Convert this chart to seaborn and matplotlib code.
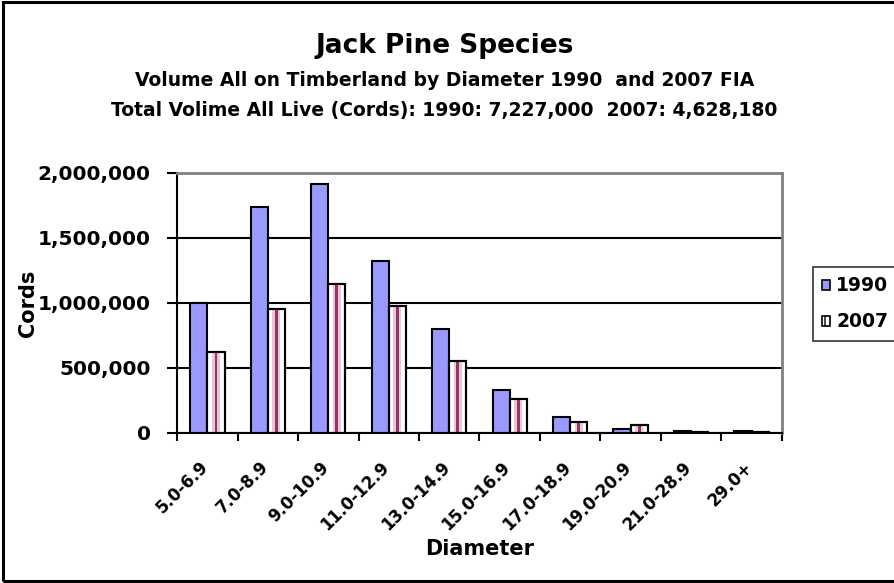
import pandas as pd
import matplotlib.pyplot as plt
import matplotlib.transforms as mtransforms
import seaborn as sns
from matplotlib.patches import Rectangle
from matplotlib.ticker import FuncFormatter, FixedLocator

# Diameter classes and cords by year
diameters = ['5.0-6.9', '7.0-8.9', '9.0-10.9', '11.0-12.9', '13.0-14.9',
             '15.0-16.9', '17.0-18.9', '19.0-20.9', '21.0-28.9', '29.0+']
cords_1990 = [1000000, 1740000, 1913000, 1326000, 798000, 327000, 124000, 31000, 15000, 12000]
cords_2007 = [620000, 955000, 1143000, 975000, 553000, 265000, 82000, 64000, 5000, 5000]
years = ['1990', '2007']

data = pd.DataFrame({
    'Diameter': diameters * 2,
    'Cords': cords_1990 + cords_2007,
    'Year': [years[0]] * len(diameters) + [years[1]] * len(diameters),
})

sns.set_style('white')
plt.rcParams['font.family'] = ['DejaVu Sans']
plt.rcParams['font.weight'] = 'bold'
for key in ['text.color', 'axes.labelcolor', 'xtick.color', 'ytick.color']:
    plt.rcParams[key] = 'black'

fig = plt.figure(figsize=(8.94, 5.83), dpi=100)
ax = fig.add_axes([0.1980, 0.2573, 0.6767, 0.446])

sns.barplot(data=data, x='Diameter', y='Cords', hue='Year', order=diameters,
            palette=['#9999FF', '#FFFFFF'], edgecolor='black', linewidth=1.5,
            width=0.57, saturation=1, ax=ax, legend=False)

# Excel-style pattern: a pink/maroon stripe down the middle of each 2007 bar
for p in ax.containers[1].patches:
    cx = p.get_x() + p.get_width() / 2
    for frac, col in [(0.45, '#E8C8D8'), (0.16, '#993366')]:
        w = p.get_width() * frac
        ax.add_patch(Rectangle((cx - w / 2, 0), w, p.get_height(),
                               facecolor=col, edgecolor='none', zorder=p.get_zorder() + 0.1))
    ax.add_patch(Rectangle((p.get_x(), 0), p.get_width(), p.get_height(),
                           facecolor='none', edgecolor='black', linewidth=1.5,
                           zorder=p.get_zorder() + 0.2))

ax.set_ylim(0, 2000000)
ax.set_xlim(-0.5, len(diameters) - 0.5)
ax.set_yticks([0, 500000, 1000000, 1500000, 2000000])
ax.yaxis.set_major_formatter(FuncFormatter(lambda v, _: f'{int(v):,}'))
ax.grid(axis='y', color='black', linewidth=1.5)
ax.set_axisbelow(True)

# tick marks between categories, labels at the centres
ax.xaxis.set_minor_locator(FixedLocator([i - 0.5 for i in range(len(diameters) + 1)]))
ax.tick_params(axis='x', which='minor', direction='out', length=6, width=1.5, color='black', bottom=True)
ax.tick_params(axis='x', which='major', length=0, pad=13, labelsize=12)
ax.tick_params(axis='y', direction='out', length=7, width=1.5, color='black', left=True,
               labelsize=14.5, pad=12)
shift = mtransforms.ScaledTranslation(-6 / 72, -5 / 72, fig.dpi_scale_trans)
for lab in ax.get_xticklabels():
    lab.set_rotation(45)
    lab.set_ha('right')
    lab.set_rotation_mode('anchor')
    lab.set_fontweight('bold')
    lab.set_transform(lab.get_transform() + shift)
plt.setp(ax.get_yticklabels(), fontweight='bold')

for side in ['left', 'bottom']:
    ax.spines[side].set_color('black')
    ax.spines[side].set_linewidth(1.5)
for side in ['top', 'right']:
    ax.spines[side].set_color('#808080')
    ax.spines[side].set_linewidth(2)

ax.set_xlabel('Diameter', fontsize=15, fontweight='bold', labelpad=4)
ax.set_ylabel('Cords', fontsize=15, fontweight='bold', labelpad=0)

fig.text(0.497, 0.921, 'Jack Pine Species', ha='center', va='center', fontsize=19, fontweight='bold')
fig.text(0.497, 0.862, 'Volume All on Timberland by Diameter 1990  and 2007 FIA',
         ha='center', va='center', fontsize=13.5, fontweight='bold')
fig.text(0.497, 0.810, 'Total Volime All Live (Cords): 1990: 7,227,000  2007: 4,628,180',
         ha='center', va='center', fontsize=13.5, fontweight='bold')

# legend built from the drawn bars
h1 = Rectangle((0, 0), 1, 1, facecolor='#9999FF', edgecolor='black', linewidth=1.2)
h2 = Rectangle((0, 0), 1, 1, facecolor='white', edgecolor='black', linewidth=1.2, hatch='|')
plt.rcParams['hatch.color'] = '#993366'
leg = fig.legend([h1, h2], years, loc='upper left', bbox_to_anchor=(0.909, 0.542),
                 frameon=True, fancybox=False, edgecolor='black',
                 handlelength=0.45, handleheight=0.45, handletextpad=0.3, labelspacing=0.9,
                 borderpad=0.5, borderaxespad=0, prop={'weight': 'bold', 'size': 13.5})
leg.get_frame().set_linewidth(1.2)

# outer chart border (right side runs off the image)
fig.patches.append(Rectangle((0.003, 0.003), 1.2, 0.993, transform=fig.transFigure,
                             facecolor='none', edgecolor='black', linewidth=2.2))

fig.savefig('out.png', dpi=100)
